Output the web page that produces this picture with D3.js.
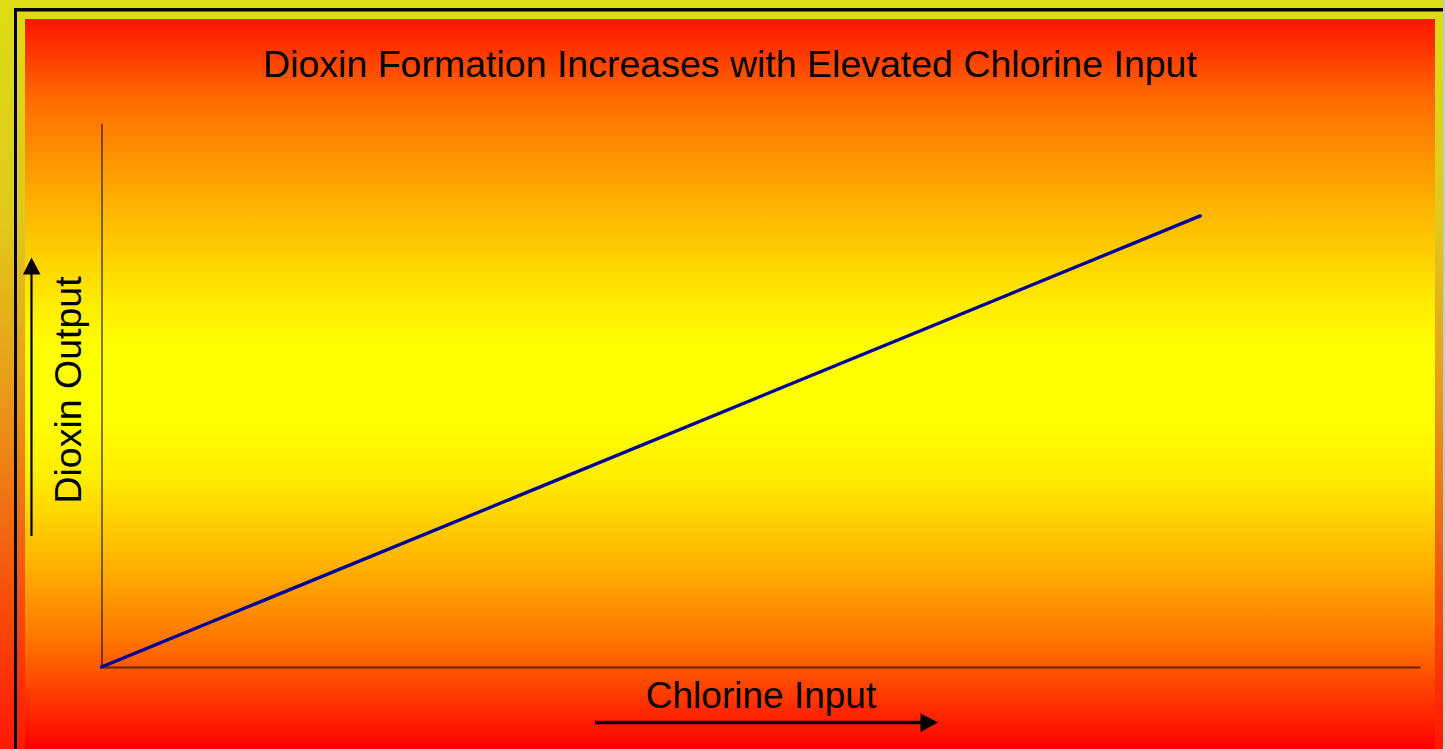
<!DOCTYPE html>
<html>
<head>
<meta charset="utf-8">
<script src="https://cdn.jsdelivr.net/npm/d3@7"></script>
<style>
  html, body { margin: 0; padding: 0; background: #c8c8c8; }
  svg { display: block; }
  text { font-family: "Liberation Sans", Arial, sans-serif; fill: #000; }
</style>
</head>
<body>
<svg id="chart" width="1445" height="749"></svg>
<script>
// Chart data
const chlorineInput = [0, 100];
const dioxinOutput = [0, 83];
const xDomain = [0, 120];
const yDomain = [0, 100];
const titleText = "Dioxin Formation Increases with Elevated Chlorine Input";
const xLabel = "Chlorine Input";
const yLabel = "Dioxin Output";

const W = 1445, H = 749;
const svg = d3.select("#chart");
const defs = svg.append("defs");

// Outer frame gradient (yellow at top, red at bottom)
const outer = defs.append("linearGradient").attr("id", "outerGrad")
  .attr("x1", 0).attr("y1", 0).attr("x2", 0).attr("y2", 1);
[[0, "#dcdc14"], [0.3, "#e0c81c"], [0.5, "#e8a01a"], [0.68, "#f07012"], [1, "#ff1800"]]
  .forEach(([o, c]) => outer.append("stop").attr("offset", o).attr("stop-color", c));

// Panel gradient (red - yellow - red)
const panel = defs.append("linearGradient").attr("id", "panelGrad")
  .attr("x1", 0).attr("y1", 0).attr("x2", 0).attr("y2", 1);
[[0, "#ff1400"], [0.11, "#ff6c00"], [0.25, "#ffb000"], [0.39, "#ffec00"], [0.45, "#ffff00"],
 [0.55, "#ffff00"], [0.63, "#ffec00"], [0.74, "#ffb600"], [0.85, "#ff7600"], [1, "#ff0000"]]
  .forEach(([o, c]) => panel.append("stop").attr("offset", o).attr("stop-color", c));

svg.append("rect").attr("x", 0).attr("y", 0).attr("width", 1443).attr("height", H)
  .attr("fill", "url(#outerGrad)");
svg.append("rect").attr("x", 25).attr("y", 19).attr("width", 1410).attr("height", H - 19)
  .attr("fill", "url(#panelGrad)");

// Black frame lines (top and left)
svg.append("rect").attr("x", 14).attr("y", 8).attr("width", 1429).attr("height", 3.5).attr("fill", "#000");
svg.append("rect").attr("x", 14).attr("y", 8).attr("width", 3).attr("height", H - 8).attr("fill", "#000");

// Scales
const x = d3.scaleLinear().domain(xDomain).range([101.5, 1420]);
const y = d3.scaleLinear().domain(yDomain).range([667, 123.5]);

// Axes without ticks
const xAxis = svg.append("g").attr("transform", `translate(0,${y(0)})`)
  .call(d3.axisBottom(x).tickValues([]).tickSizeOuter(0));
xAxis.select(".domain").attr("stroke", "#000").attr("stroke-opacity", 0.6).attr("stroke-width", 2);

const yAxis = svg.append("g").attr("transform", `translate(${x(0)},0)`)
  .call(d3.axisLeft(y).tickValues([]).tickSizeOuter(0));
yAxis.select(".domain").attr("stroke", "#000").attr("stroke-opacity", 0.85).attr("stroke-width", 1.2);

// Data line
const pts = chlorineInput.map((v, i) => [v, dioxinOutput[i]]);
svg.append("path").datum(pts)
  .attr("d", d3.line().x(d => x(d[0])).y(d => y(d[1])))
  .attr("fill", "none").attr("stroke", "#000099").attr("stroke-width", 3.3).attr("stroke-linecap", "round");

// Title
svg.append("text").attr("x", 730).attr("y", 77).attr("text-anchor", "middle")
  .attr("font-size", 37.5).text(titleText);

// X label with arrow
svg.append("text").attr("x", 761).attr("y", 708).attr("text-anchor", "middle")
  .attr("font-size", 37).text(xLabel);
svg.append("line").attr("x1", 595).attr("x2", 922).attr("y1", 722.5).attr("y2", 722.5)
  .attr("stroke", "#000").attr("stroke-width", 3.5);
svg.append("path").attr("d", "M938,722.5 L920.5,713.5 L920.5,732 Z").attr("fill", "#000");

// Y label with arrow
svg.append("text").attr("transform", "translate(81,390) rotate(-90)").attr("text-anchor", "middle")
  .attr("font-size", 37.5).text(yLabel);
svg.append("line").attr("x1", 31.5).attr("x2", 31.5).attr("y1", 536).attr("y2", 272)
  .attr("stroke", "#000").attr("stroke-width", 2.2);
svg.append("path").attr("d", "M31.5,257.5 L23,274.5 L40.5,274.5 Z").attr("fill", "#000");
</script>
</body>
</html>
